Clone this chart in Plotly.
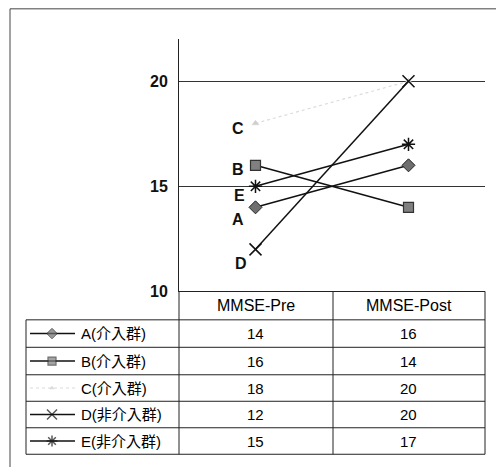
import plotly.graph_objects as go

# ---------------- data ----------------
categories = ["MMSE-Pre", "MMSE-Post"]
series_short = ["A", "B", "C", "D", "E"]
series_names = ["A(介入群)", "B(介入群)", "C(介入群)", "D(非介入群)", "E(非介入群)"]
values_A = [14, 16]
values_B = [16, 14]
values_C = [18, 20]
values_D = [12, 20]
values_E = [15, 17]
y_tick_values = [10, 15, 20]
y_range = [10, 22]

series_values = [values_A, values_B, values_C, values_D, values_E]

# ---------------- layout geometry (pixels) ----------------
W, H = 496, 476
PLOT_L, PLOT_R, PLOT_T, PLOT_B = 179, 485, 40, 297
TABLE_L = 26
ROW_EDGES = [297, 326, 354, 382, 409, 436, 463]
COL_EDGES = [179, 333, 485]
KEY_X0, KEY_XM, KEY_X1, KEY_TEXT_X = 30, 52, 75, 79

FONT = "Liberation Sans, Arial, Noto Sans CJK JP, sans-serif"

styles = [
    dict(line=dict(color="#111", width=1.5),
         marker=dict(symbol="diamond", size=10, color="#6f6f6f", line=dict(color="#222", width=1))),
    dict(line=dict(color="#111", width=1.5),
         marker=dict(symbol="square", size=10, color="#808080", line=dict(color="#333", width=1.2))),
    dict(line=dict(color="#dcdcdc", width=1.2, dash="dot"),
         marker=dict(symbol="triangle-up", size=6, color="#cfcfcf", line=dict(color="#cfcfcf", width=0.5))),
    dict(line=dict(color="#111", width=1.5),
         marker=dict(symbol="x-thin-open", size=12, color="#111", line=dict(color="#111", width=1.5))),
    dict(line=dict(color="#111", width=1.5),
         marker=dict(symbol="asterisk-open", size=11, color="#111", line=dict(color="#111", width=1.5))),
]
# label offsets (pixels) relative to the MMSE-Pre point
label_shift = [(-18, -12), (-18, -4), (-18, -5), (-15, -14), (-16, -9)]

fig = go.Figure()

# main series
for name, vals, st in zip(series_names, series_values, styles):
    fig.add_trace(go.Scatter(
        x=categories, y=vals, mode="lines+markers", name=name,
        line=st["line"], marker=st["marker"], xaxis="x", yaxis="y",
        showlegend=False, cliponaxis=False))

# legend keys inside the data table (overlay pixel axes)
for i, st in enumerate(styles):
    yc = (ROW_EDGES[i + 1] + ROW_EDGES[i + 2]) / 2
    m = dict(st["marker"])
    m["size"] = [0, st["marker"]["size"] - 2, 0]
    fig.add_trace(go.Scatter(
        x=[KEY_X0, KEY_XM, KEY_X1], y=[yc, yc, yc], mode="lines+markers",
        line=st["line"], marker=m, xaxis="x2", yaxis="y2",
        showlegend=False, hoverinfo="skip", cliponaxis=False))

shapes = []
def hline(y, x0, x1, color="#222"):
    shapes.append(dict(type="line", xref="x2", yref="y2", x0=x0, x1=x1, y0=y, y1=y,
                       line=dict(color=color, width=1)))
def vline(x, y0, y1, color="#222"):
    shapes.append(dict(type="line", xref="x2", yref="y2", x0=x, x1=x, y0=y0, y1=y1,
                       line=dict(color=color, width=1)))

# outer frame (runs off the right and bottom edges)
shapes.append(dict(type="rect", xref="x2", yref="y2", x0=10, x1=W + 10, y0=9, y1=H + 10,
                   line=dict(color="#444", width=1), fillcolor="rgba(0,0,0,0)"))

# table grid
for y in ROW_EDGES[1:]:
    hline(y, TABLE_L, PLOT_R)
for x in COL_EDGES:
    vline(x, ROW_EDGES[0], ROW_EDGES[-1])
vline(TABLE_L, ROW_EDGES[1], ROW_EDGES[-1])

TXT = dict(family=FONT, size=15, color="#000")
annotations = []
# column headers and values
for ci, cat in enumerate(categories):
    annotations.append(dict(x=cat, xref="x", y=(ROW_EDGES[0] + ROW_EDGES[1]) / 2, yref="y2",
                            text=cat, showarrow=False, xanchor="center", yanchor="middle",
                            font=dict(family=FONT, size=16, color="#000")))
    for ri, vals in enumerate(series_values):
        yc = (ROW_EDGES[ri + 1] + ROW_EDGES[ri + 2]) / 2
        annotations.append(dict(x=cat, xref="x", y=yc, yref="y2", text=str(vals[ci]),
                                showarrow=False, xanchor="center", yanchor="middle",
                                font=TXT))
# row labels
for ri, name in enumerate(series_names):
    yc = (ROW_EDGES[ri + 1] + ROW_EDGES[ri + 2]) / 2
    annotations.append(dict(x=KEY_TEXT_X, xref="x2", y=yc, yref="y2", text=name,
                            showarrow=False, xanchor="left", yanchor="middle",
                            font=TXT))
# series letters next to the MMSE-Pre points
for s, vals, (dx, dy) in zip(series_short, series_values, label_shift):
    annotations.append(dict(x=categories[0], xref="x", y=vals[0], yref="y", text=f"<b>{s}</b>",
                            showarrow=False, xanchor="center", yanchor="middle",
                            xshift=dx, yshift=dy,
                            font=dict(family=FONT, size=16, color="#111")))

fig.update_layout(
    width=W, height=H,
    margin=dict(l=0, r=0, t=0, b=0),
    paper_bgcolor="white", plot_bgcolor="rgba(0,0,0,0)",
    showlegend=False,
    xaxis=dict(domain=[PLOT_L / W, PLOT_R / W], anchor="y", type="category",
               range=[-0.5, 1.5], showticklabels=False, ticks="", showgrid=False,
               showline=True, linecolor="#222", linewidth=1, zeroline=False, fixedrange=True),
    yaxis=dict(domain=[1 - PLOT_B / H, 1 - PLOT_T / H], anchor="x",
               range=y_range, tickvals=y_tick_values, ticktext=[f"<b>{v}</b>" for v in y_tick_values],
               ticks="", ticklabelstandoff=7,
               showgrid=True, gridcolor="#333", gridwidth=1,
               showline=True, linecolor="#222", linewidth=1, zeroline=False,
               tickfont=dict(family=FONT, size=16, color="#111"), fixedrange=True),
    xaxis2=dict(domain=[0, 1], anchor="y2", range=[0, W], visible=False, fixedrange=True),
    yaxis2=dict(domain=[0, 1], anchor="x2", range=[H, 0], visible=False, fixedrange=True),
    shapes=shapes,
    annotations=annotations,
)

fig.write_html("out.html", config={"displayModeBar": False},
               post_script="document.body.style.margin='0';document.body.style.overflow='hidden';")
